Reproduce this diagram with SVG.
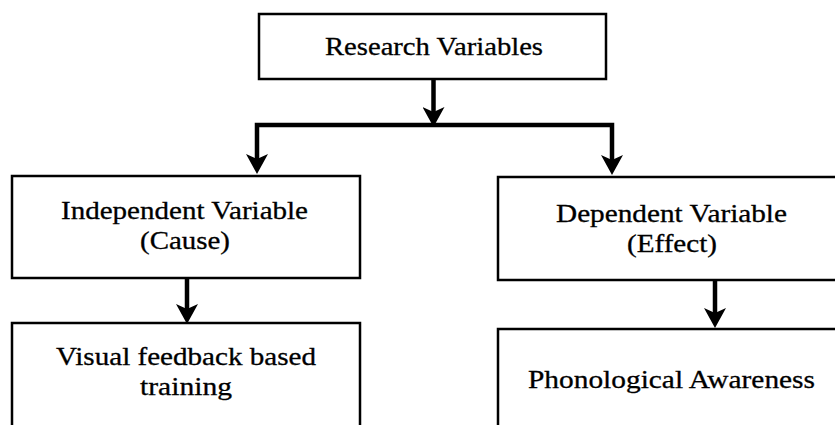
<svg xmlns="http://www.w3.org/2000/svg" width="835" height="425" viewBox="0 0 835 425">
<defs>
<style>
.box{fill:#ffffff;stroke:#000000;stroke-width:2.5}
.lbl{font-family:"Liberation Serif","Times New Roman",serif;font-size:25px;fill:#000000;stroke:#000000;stroke-width:0.3;text-anchor:middle}
.conn{fill:none;stroke:#000000;stroke-width:4.5;stroke-linejoin:miter}
</style>
<marker id="ah" viewBox="0 0 20 22" refX="12" refY="11" markerWidth="20" markerHeight="22" markerUnits="userSpaceOnUse" orient="auto">
<path d="M0,0 L20,11 L0,22 L5,11 Z" fill="#000000"/>
</marker>
</defs>
<rect x="0" y="0" width="835" height="425" fill="#ffffff"/>
<g id="connectors">
<path class="conn" d="M433.5,79 V119" marker-end="url(#ah)"/>
<path class="conn" d="M434,125 H257 V166" marker-end="url(#ah)"/>
<path class="conn" d="M434,125 H612 V167" marker-end="url(#ah)"/>
<path class="conn" d="M187,278 V316" marker-end="url(#ah)"/>
<path class="conn" d="M715,281 V320" marker-end="url(#ah)"/>
</g>
<g id="research-variables">
<rect class="box" x="259" y="14" width="347" height="65"/>
<text class="lbl" x="434" y="55" textLength="218" lengthAdjust="spacingAndGlyphs">Research Variables</text>
</g>
<g id="independent-variable">
<rect class="box" x="12" y="176" width="348" height="102"/>
<text class="lbl" x="184.5" y="218.5" textLength="247" lengthAdjust="spacingAndGlyphs">Independent Variable</text>
<text class="lbl" x="185" y="249" textLength="90" lengthAdjust="spacingAndGlyphs">(Cause)</text>
</g>
<g id="visual-feedback-training">
<rect class="box" x="12" y="323" width="348" height="150"/>
<text class="lbl" x="186" y="365" textLength="260" lengthAdjust="spacingAndGlyphs">Visual feedback based</text>
<text class="lbl" x="186" y="395" textLength="92" lengthAdjust="spacingAndGlyphs">training</text>
</g>
<g id="dependent-variable">
<rect class="box" x="498" y="177" width="348" height="103"/>
<text class="lbl" x="671.5" y="221.5" textLength="231" lengthAdjust="spacingAndGlyphs">Dependent Variable</text>
<text class="lbl" x="672" y="252" textLength="90" lengthAdjust="spacingAndGlyphs">(Effect)</text>
</g>
<g id="phonological-awareness">
<rect class="box" x="498" y="329" width="348" height="150"/>
<text class="lbl" x="671.5" y="387.5" textLength="287" lengthAdjust="spacingAndGlyphs">Phonological Awareness</text>
</g>
</svg>
